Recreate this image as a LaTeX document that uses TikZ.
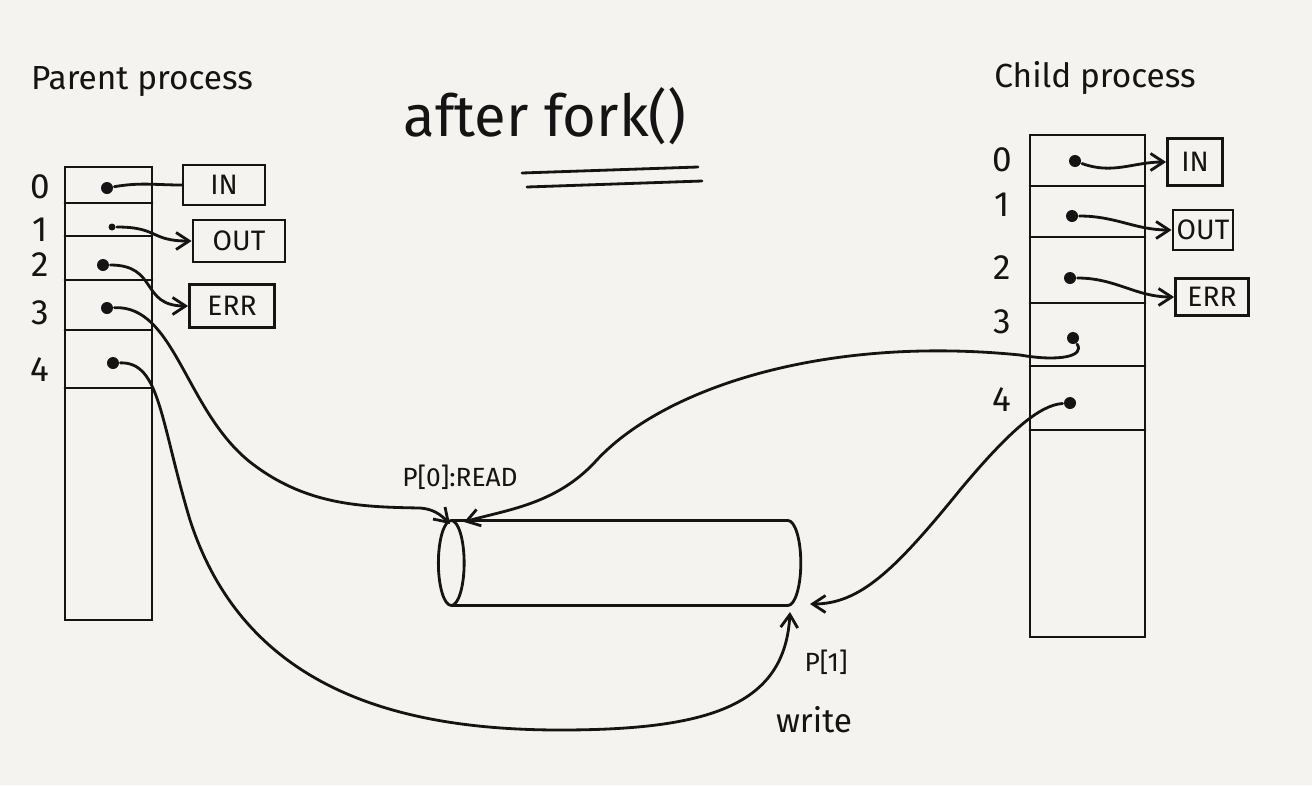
\documentclass[tikz,border=0pt]{standalone}
\usepackage{fontspec}
\setmainfont{Fira Sans}
\usetikzlibrary{shapes.geometric, arrows.meta, positioning, calc}
\definecolor{inkcolor}{HTML}{141414}
\definecolor{paperfill}{HTML}{F4F3EF}

\begin{document}
\begin{tikzpicture}[
  x=0.02cm, y=-0.02cm,
  >={Straight Barb[length=2.6mm, width=3.4mm]},
  line width=1.6pt,
  draw=inkcolor,
  line cap=round,
]

\tikzset{
  heading/.style={font=\fontsize{19}{22}\selectfont, text=inkcolor},
  fdnum/.style={font=\fontsize{20}{22}\selectfont, text=inkcolor},
  fdbox/.style={rectangle, draw=inkcolor, inner sep=1pt,
    font=\fontsize{16}{18}\selectfont, text=inkcolor},
  fddot/.style={circle, fill=inkcolor, inner sep=0pt, minimum size=2.4mm},
  pipelabel/.style={font=\fontsize{15}{17}\selectfont, text=inkcolor},
  fdlink/.style={->, inkcolor},
  pipelink/.style={->, inkcolor},
}

% paper
\fill[paperfill] (0,0) rectangle (1312,785);
\useasboundingbox (0,0) rectangle (1312,785);

% ---------------------------------------------------------------
% titles
% ---------------------------------------------------------------
\node[heading] (ptitle) at (142,82) {Parent process};
\node[heading] (ctitle) at (1095,78) {Child process};
\node[font=\fontsize{33}{35}\selectfont, text=inkcolor] (title) at (545,116) {after fork()};
\draw (522,173) -- (698,167);
\draw (527,187) -- (702,181);

% ---------------------------------------------------------------
% parent descriptor table
% ---------------------------------------------------------------
\draw (65,167) rectangle (152,620);
\foreach \y in {203,236,280,330,388}
  \draw (65,\y) -- (152,\y);
\foreach \i/\y in {0/187,1/230,2/265,3/313,4/370}
  \node[fdnum] at (40,\y) {\i};

\node[fddot] (pd0) at (107,188) {};
\node[fddot, minimum size=1.4mm] (pd1) at (112,227) {};
\node[fddot] (pd2) at (103,265) {};
\node[fddot] (pd3) at (107,308) {};
\node[fddot] (pd4) at (113,363) {};

\node[fdbox, minimum width=1.64cm, minimum height=0.8cm]  (pin)  at (224,185) {IN};
\node[fdbox, minimum width=1.84cm, minimum height=0.84cm] (pout) at (239,241) {OUT};
\node[fdbox, minimum width=1.7cm,  minimum height=0.86cm] (perr) at (232,306) {ERR};

\draw (pd0) to[out=10, in=180] (pin.west);
\draw[fdlink] (pd1) to[out=0, in=180, looseness=1.4] (pout.west);
\draw[fdlink] (pd2) to[out=0, in=180, looseness=1.4] (perr.west);

% ---------------------------------------------------------------
% child descriptor table
% ---------------------------------------------------------------
\draw (1030,135) rectangle (1145,637);
\foreach \y in {186,237,303,366,430}
  \draw (1030,\y) -- (1145,\y);
\foreach \i/\y in {0/160,1/205,2/268,3/322,4/400}
  \node[fdnum] at (1002,\y) {\i};

\node[fddot] (cd0) at (1075,161) {};
\node[fddot] (cd1) at (1072,216) {};
\node[fddot] (cd2) at (1070,278) {};
\node[fddot] (cd3) at (1073,338) {};
\node[fddot] (cd4) at (1070,403) {};

\node[fdbox, minimum width=1.1cm,  minimum height=0.94cm] (cin)  at (1195,162) {IN};
\node[fdbox, minimum width=1.2cm,  minimum height=0.8cm]  (cout) at (1203,230) {OUT};
\node[fdbox, minimum width=1.46cm, minimum height=0.74cm] (cerr) at (1212,297) {ERR};

\draw[fdlink] (cd0) to[out=-20, in=180] (cin.west);
\draw[fdlink] (cd1) to[out=0, in=180] (cout.west);
\draw[fdlink] (cd2) to[out=0, in=180] (cerr.west);

% ---------------------------------------------------------------
% pipe
% ---------------------------------------------------------------
\node[cylinder, shape border rotate=180, draw=inkcolor, aspect=2.2,
      minimum width=1.7cm, minimum height=7.25cm] (pipe) at (630,563) {};

\coordinate (readend)  at (450,524);
\coordinate (readend2) at (464,522);
\coordinate (writeend)  at (790,612);
\coordinate (writeend2) at (810,604);

\node[pipelabel] (readlbl)  at (460,477) {P[0]:READ};
\node[pipelabel] (writelbl) at (826,662) {P[1]};
\node[font=\fontsize{19}{21}\selectfont, text=inkcolor] (writetxt) at (814,720) {write};

% read end: parent fd 3, child fd 3
\draw[pipelink] (pd3) .. controls (175,305) and (185,410) .. (250,462)
  .. controls (305,505) and (360,507) .. (420,508)
  .. controls (433,509) and (440,514) .. (readend);
\draw[pipelink] (cd3) .. controls (1085,356) and (1060,362) .. (1020,355)
  .. controls (820,335) and (660,390) .. (595,462)
  .. controls (555,505) and (505,510) .. (readend2);

% write end: parent fd 4, child fd 4
\draw[pipelink] (pd4) .. controls (160,362) and (160,420) .. (190,520)
  .. controls (245,690) and (400,730) .. (560,730)
  .. controls (710,730) and (785,705) .. (writeend);
\draw[pipelink] (cd4) .. controls (1040,405) and (1010,430) .. (960,490)
  .. controls (895,570) and (860,604) .. (writeend2);

\end{tikzpicture}
\end{document}
